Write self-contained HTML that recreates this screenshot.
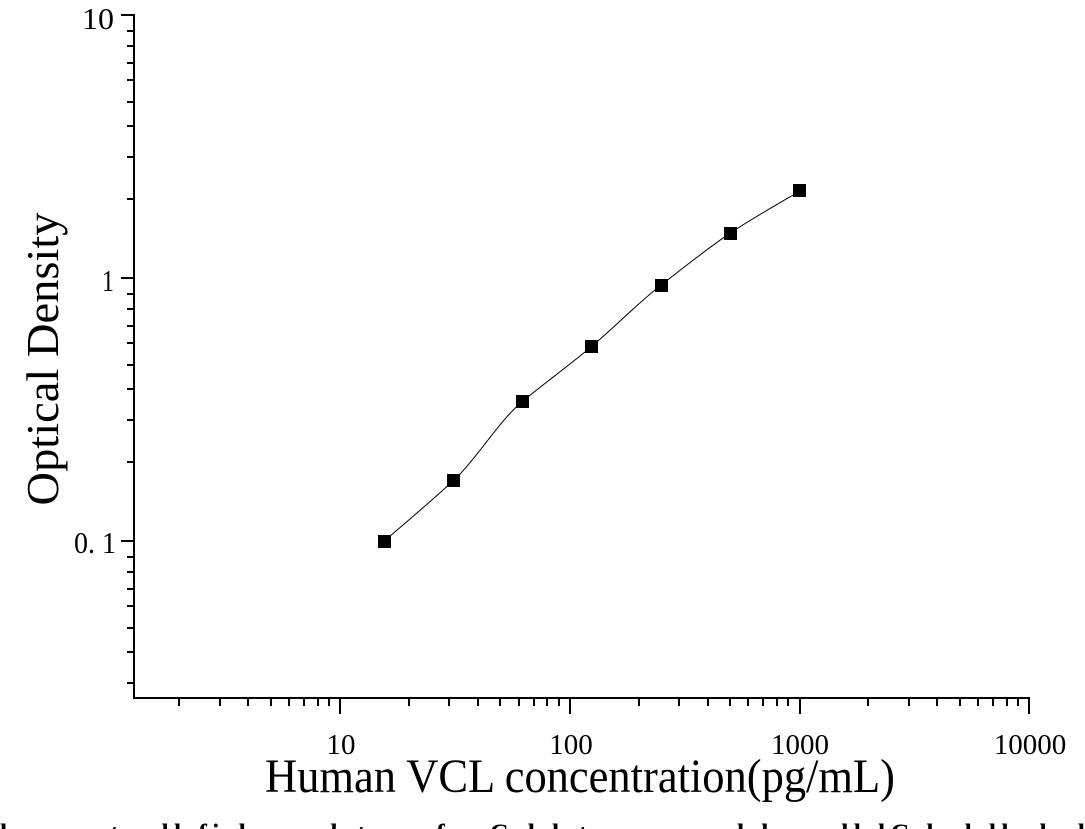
<!DOCTYPE html>
<html><head><meta charset="utf-8"><style>
html,body{margin:0;padding:0;background:#fff;width:1085px;height:829px;overflow:hidden;position:relative}
svg text{font-family:"Liberation Serif","Noto Serif CJK SC",serif;fill:#000}
svg{position:absolute;left:0;top:0}
</style></head><body>
<svg id="s" width="1085" height="829" xmlns="http://www.w3.org/2000/svg">
<rect width="1085" height="829" fill="#fff"/>
<g stroke="#000" stroke-width="2" fill="none">
<line x1="134" y1="14" x2="134" y2="699"/>
<line x1="133" y1="698" x2="1030" y2="698"/>
<path d="M340,698V714M570,698V714M800,698V714M1029,698V714M179,698V706M220,698V706M248,698V706M271,698V706M289,698V706M304,698V706M318,698V706M329,698V706M409,698V706M449,698V706M478,698V706M500,698V706M519,698V706M534,698V706M547,698V706M559,698V706M639,698V706M679,698V706M708,698V706M730,698V706M748,698V706M763,698V706M777,698V706M788,698V706M868,698V706M909,698V706M937,698V706M960,698V706M978,698V706M993,698V706M1007,698V706M1018,698V706"/>
<path d="M121,15H134M121,278H134M121,541H134M127,31H134M127,46H134M127,63H134M127,80H134M127,102H134M127,126H134M127,157H134M127,199H134M127,294H134M127,309H134M127,326H134M127,343H134M127,365H134M127,389H134M127,420H134M127,462H134M127,557H134M127,572H134M127,589H134M127,606H134M127,628H134M127,652H134M127,683H134"/>
</g>
<path fill="none" stroke="#000" stroke-width="1" d="M384.3,541 C395.9,530.9 430.5,502 453.6,480.4 C476.7,458.8 499.6,420.2 522.7,401.2 C545.8,382.2 568.8,365.7 591.9,346.3 C615,326.9 637.9,303 661,285.1 C684.1,267.2 706.8,248.9 730.1,233.2 C753.4,217.5 788.3,198 800,191"/>
<g fill="#000">
<rect x="378" y="535" width="13" height="13"/>
<rect x="447" y="474" width="13" height="13"/>
<rect x="516" y="395" width="13" height="13"/>
<rect x="585" y="340" width="13" height="13"/>
<rect x="655" y="279" width="13" height="13"/>
<rect x="724" y="227" width="13" height="13"/>
<rect x="793" y="184" width="13" height="13"/>
</g>
<g font-size="31" text-anchor="end">
<text x="114" y="29" textLength="32" lengthAdjust="spacingAndGlyphs">10</text>
<text x="114" y="291" textLength="12" lengthAdjust="spacingAndGlyphs">1</text>
<text x="116" y="553" textLength="42" lengthAdjust="spacingAndGlyphs">0. 1</text>
</g>
<g font-size="29" text-anchor="middle">
<text x="341" y="754">10</text>
<text x="571" y="754">100</text>
<text x="800" y="754">1000</text>
<text x="1030" y="754">10000</text>
</g>
<text x="580" y="792" font-size="48" text-anchor="middle" textLength="630" lengthAdjust="spacingAndGlyphs">Human VCL concentration(pg/mL)</text>
<text transform="translate(58,359) rotate(-90)" font-size="46" text-anchor="middle" textLength="293" lengthAdjust="spacingAndGlyphs">Optical Density</text>
<text x="0" y="842" font-size="26" font-weight="bold" fill="#222" textLength="1085" lengthAdjust="spacing">lo ··· ·t · ll fi·l ·· ··l·t· ·· f·· C·l l·t ·· ·· ·· ·l l·· ··ll lC l ·l ll ·l ·l</text>
</svg>
</body></html>
